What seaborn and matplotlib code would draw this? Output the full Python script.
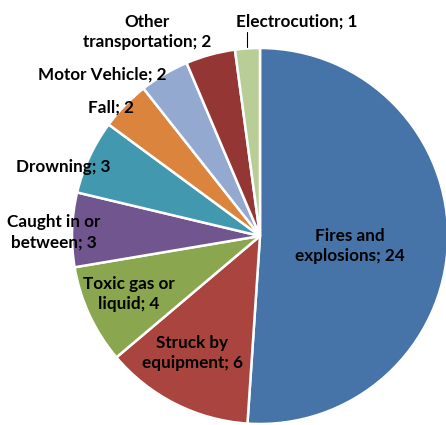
import matplotlib
matplotlib.use("Agg")
import matplotlib.pyplot as plt
import seaborn as sns

# Fatalities by cause
causes = ["Fires and\nexplosions", "Struck by\nequipment", "Toxic gas or\nliquid",
          "Caught in or\nbetween", "Drowning", "Fall", "Motor Vehicle",
          "Other\ntransportation", "Electrocution"]
counts = [24, 6, 4, 3, 3, 2, 2, 2, 1]
colors = ["#4674A8", "#A9443F", "#8AA64E", "#71558F", "#4198AF",
          "#DB843D", "#93A9CF", "#943634", "#B9CE96"]

sns.set_theme(style="white")
plt.rcParams["font.family"] = ["Lato", "DejaVu Sans"]

W, H = 446, 425
CX, CY, R = 260, 236, 188  # pie centre and radius in pixels

fig = plt.figure(figsize=(W / 100, H / 100), dpi=100)
ax = fig.add_axes([0, 0, 1, 1])

ax.pie(counts, colors=sns.color_palette(colors), startangle=90, counterclock=False,
       radius=1.0, center=(0, 0),
       wedgeprops=dict(edgecolor="white", linewidth=1.8))

ax.set_xlim(-CX / R, (W - CX) / R)
ax.set_ylim(-(H - CY) / R, CY / R)
ax.set_aspect("equal")
ax.axis("off")

def px(x, y):
    return (x - CX) / R, (CY - y) / R

# label anchor points (pixel coordinates)
label_pos = [(350, 246), (192, 353), (129, 294), (54, 232), (63, 167),
             (111, 108), (102, 75), (147, 32), (297, 22)]

for name, n, (lx, ly) in zip(causes, counts, label_pos):
    ax.text(*px(lx, ly), f"{name}; {n}", ha="center", va="center",
            fontsize=12.3, fontweight="bold", color="black", linespacing=1.32)

# leader line for the small Electrocution slice
x0, y0 = px(247, 32)
x1, y1 = px(247, 47)
ax.plot([x0, x1], [y0, y1], color="black", linewidth=0.8)

fig.savefig("out.png", dpi=100)
